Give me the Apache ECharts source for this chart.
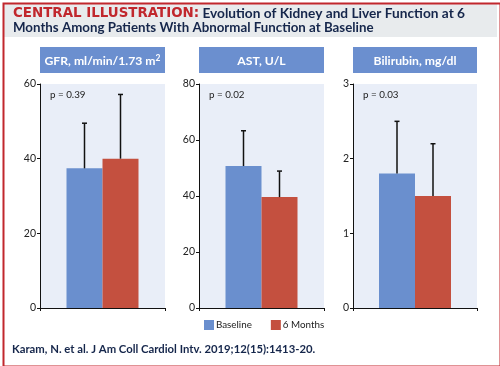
<!DOCTYPE html>
<html><head><meta charset="utf-8">
<script src="https://cdn.jsdelivr.net/npm/echarts@6/dist/echarts.min.js"></script>
<style>html,body{margin:0;padding:0;background:#fff}#c{width:500px;height:366px}</style>
</head><body><div id="c"></div>
<script>
// ---- data ----
var panelTitles = ['GFR, ml/min/1.73 m', 'AST, U/L', 'Bilirubin, mg/dl'];
var pValues = ['p = 0.39', 'p = 0.02', 'p = 0.03'];
var groups = ['Baseline', '6 Months'];
var baselineMeans = [37.4, 50.7, 1.8];
var sixMonthMeans = [40.0, 39.6, 1.5];
var baselineUpper = [49.5, 63.3, 2.5];
var sixMonthUpper = [57.2, 48.9, 2.2];
var yMax = [60, 80, 3];
var yStep = [20, 20, 1];
var citation = 'Karam, N. et al. J Am Coll Cardiol Intv. 2019;12(15):1413-20.';

// ---- style ----
var FONT = 'Lato';
var BLUE = '#6a8fce', RED = '#c4503f', NAVY = '#15264b', BRED = '#c1272d';
var gridLefts = [40, 199, 353];
var gridWidths = [125, 125, 124];
var BW = 36;

var grids = [], xAxes = [], yAxes = [], series = [], graphics = [];
for (var i = 0; i < 3; i++) {
  grids.push({left: gridLefts[i], top: 84, width: gridWidths[i], height: 224, show: true,
    backgroundColor: '#e9eef8', borderWidth: 0});
  xAxes.push({type: 'category', gridIndex: i, data: [''],
    axisLine: {lineStyle: {color: '#111', width: 1}},
    axisTick: {show: true, length: 3, lineStyle: {color: '#111'}},
    axisLabel: {show: false}});
  yAxes.push({type: 'value', gridIndex: i, min: 0, max: yMax[i], interval: yStep[i],
    splitLine: {show: false},
    axisLine: {show: true, lineStyle: {color: '#111', width: 1}},
    axisTick: {show: true, length: 3, lineStyle: {color: '#111'}},
    axisLabel: {fontFamily: FONT, fontSize: 10.5, color: '#222', margin: 4}});
  series.push({name: groups[0], type: 'bar', xAxisIndex: i, yAxisIndex: i, barWidth: BW, barGap: '0%',
    itemStyle: {color: BLUE}, data: [baselineMeans[i]]});
  series.push({name: groups[1], type: 'bar', xAxisIndex: i, yAxisIndex: i, barWidth: BW, barGap: '0%',
    itemStyle: {color: RED}, data: [sixMonthMeans[i]]});
  series.push({type: 'custom', xAxisIndex: i, yAxisIndex: i, z: 5, silent: true,
    data: [[0, baselineMeans[i], baselineUpper[i], -1], [0, sixMonthMeans[i], sixMonthUpper[i], 1]],
    renderItem: function (params, api) {
      var base = api.coord([api.value(0), api.value(1)]);
      var top = api.coord([api.value(0), api.value(2)]);
      var x = base[0] + api.value(3) * BW / 2;
      return {type: 'group', children: [
        {type: 'line', shape: {x1: x, y1: base[1], x2: x, y2: top[1]}, style: {stroke: '#111', lineWidth: 1.5}},
        {type: 'line', shape: {x1: x - 2.5, y1: top[1], x2: x + 2.5, y2: top[1]}, style: {stroke: '#111', lineWidth: 1.5}}
      ]};
    }});
  // header box
  graphics.push({type: 'rect', left: gridLefts[i], top: 47, shape: {width: gridWidths[i], height: 26},
    style: {fill: '#6b8fcf'}});
  graphics.push({type: 'text', x: gridLefts[i] + gridWidths[i] / 2, y: 61,
    style: {text: i === 0 ? '{a|' + panelTitles[i] + '}{s|2}' : '{a|' + panelTitles[i] + '}',
      rich: {a: {fontFamily: FONT, fontWeight: 'bold', fontSize: 12.2, fill: '#fff'},
             s: {fontFamily: FONT, fontWeight: 'bold', fontSize: 8.5, fill: '#fff', padding: [0, 0, 6, 0]}},
      align: 'center', verticalAlign: 'middle'}});
  graphics.push({type: 'text', x: gridLefts[i] + 10, y: 95,
    style: {text: pValues[i], fontFamily: FONT, fontSize: 9.8, fill: '#222', align: 'left', verticalAlign: 'middle'}});
}
// border and title area
graphics.unshift({type: 'rect', left: 3, top: 3, shape: {width: 494, height: 34}, style: {fill: '#e8ebed'}});
graphics.push({type: 'rect', left: 1, top: 1, shape: {width: 497, height: 363}, style: {fill: 'none', stroke: BRED, lineWidth: 2}});
graphics.push({type: 'text', x: 13, y: 14,
  style: {text: '{r|CENTRAL ILLUSTRATION:} {n|Evolution of Kidney and Liver Function at 6}',
    rich: {r: {fontFamily: 'DejaVu Sans', fontWeight: 'bold', fontSize: 13.4, fill: BRED},
           n: {fontFamily: FONT, fontWeight: 'bold', fontSize: 13.7, fill: NAVY}},
    verticalAlign: 'middle'}});
graphics.push({type: 'text', x: 13, y: 27.5,
  style: {text: 'Months Among Patients With Abnormal Function at Baseline',
    fontFamily: FONT, fontWeight: 'bold', fontSize: 13.3, fill: NAVY, verticalAlign: 'middle'}});
graphics.push({type: 'text', x: 12, y: 349,
  style: {text: citation, fontFamily: FONT, fontWeight: 'bold', fontSize: 11.3, fill: NAVY, verticalAlign: 'middle'}});

var chart = echarts.init(document.getElementById('c'), null, {renderer: 'canvas'});
chart.setOption({
  animation: false,
  grid: grids, xAxis: xAxes, yAxis: yAxes, series: series, graphic: graphics,
  legend: {data: groups, left: 204, top: 320, padding: 0, itemWidth: 10, itemHeight: 10, itemGap: 19, icon: 'rect',
    textStyle: {fontFamily: FONT, fontSize: 9.8, color: '#222', padding: [0, 0, 0, -3]}}
});
</script></body></html>
